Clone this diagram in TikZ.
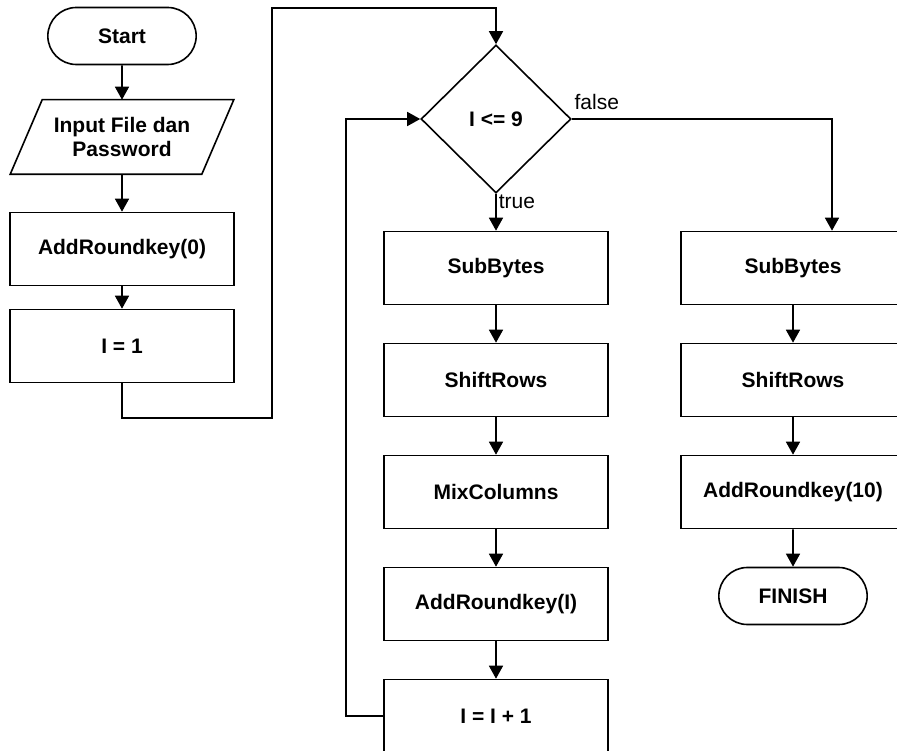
\documentclass[tikz,border=0pt]{standalone}
\usepackage{fontspec}
\setmainfont{Liberation Sans}
\usetikzlibrary{arrows.meta, positioning, shapes.geometric, shapes.misc}

\begin{document}
\begin{tikzpicture}[
    x=1pt, y=-1pt,
    >={Triangle[length=13pt, width=14pt]},
    line width=1.6pt,
    proc/.style={rectangle, draw, minimum width=224pt, minimum height=73pt, font=\fontsize{21}{24}\selectfont\bfseries},
    term/.style={rounded rectangle, draw, minimum width=155pt, minimum height=57pt, font=\fontsize{21}{24}\selectfont\bfseries},
    io/.style={rectangle, minimum width=190pt, minimum height=73pt, align=center, font=\fontsize{21}{24}\selectfont\bfseries},
    decision/.style={diamond, draw, inner sep=0pt, minimum width=150pt, minimum height=148pt, font=\fontsize{21}{24}\selectfont\bfseries},
    lbl/.style={font=\fontsize{21}{24}\selectfont},
    arrow/.style={->}
]
\useasboundingbox (0,0) rectangle (897,751);

% === Persiapan ===
\node[term] (start) at (122, 36) {Start};
\node[io] (input) at (122, 137) {Input File dan\\Password};
\draw ([xshift=-16pt]input.south west) -- ([xshift=16pt]input.north west)
    -- ([xshift=16pt]input.north east) -- ([xshift=-16pt]input.south east) -- cycle;
\node[proc] (ark0) at (122, 249) {AddRoundkey(0)};
\node[proc] (set1) at (122, 346) {I = 1};

\draw[arrow] (start) -- (input);
\draw[arrow] (input) -- (ark0);
\draw[arrow] (ark0) -- (set1);

% === Kondisi perulangan ===
\node[decision] (cond) at (496, 119) {I <= 9};

\coordinate (jmpB) at (272, 418);
\coordinate (jmpT) at (272, 8);
\draw[arrow] (set1.south) |- (jmpB) -- (jmpT) -| (cond.north);

% === Ronde 1 - 9 ===
\node[proc] (sub1) at (496, 268) {SubBytes};
\node[proc] (shift1) at (496, 380) {ShiftRows};
\node[proc] (mix) at (496, 492) {MixColumns};
\node[proc] (arki) at (496, 604) {AddRoundkey(I)};
\node[proc] (inc) at (496, 716) {I = I + 1};

\draw[arrow] (cond) -- node[lbl, pos=0.22, right, inner sep=2pt] {true} (sub1);
\draw[arrow] (sub1) -- (shift1);
\draw[arrow] (shift1) -- (mix);
\draw[arrow] (mix) -- (arki);
\draw[arrow] (arki) -- (inc);

\coordinate (loopL) at (346, 716);
\draw[arrow] (inc.west) -- (loopL) |- (cond.west);

% === Ronde terakhir ===
\node[proc] (sub2) at (793, 268) {SubBytes};
\node[proc] (shift2) at (793, 380) {ShiftRows};
\node[proc] (ark10) at (793, 492) {AddRoundkey(10)};
\node[term] (finish) at (793, 596) {FINISH};

\coordinate (fdrop) at (832, 119);
\draw[arrow] (cond.east) -- (fdrop) -- (fdrop |- sub2.north);
\node[lbl, anchor=south west, inner sep=1pt, xshift=1pt, yshift=7pt] (flbl) at (cond.east) {false};
\draw[arrow] (sub2) -- (shift2);
\draw[arrow] (shift2) -- (ark10);
\draw[arrow] (ark10) -- (finish);

\end{tikzpicture}
\end{document}
